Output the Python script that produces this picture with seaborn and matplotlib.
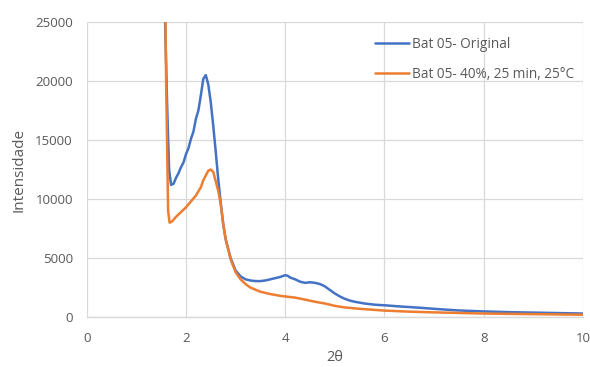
import matplotlib
matplotlib.use("Agg")
import matplotlib.pyplot as plt
import seaborn as sns
import pandas as pd

# Data
blue_label = "Bat 05- Original"
orange_label = "Bat 05- 40%, 25 min, 25°C"

blue_x = [1.50, 1.58, 1.62, 1.66, 1.70, 1.75, 1.80, 1.85, 1.90, 1.95, 2.00, 2.05, 2.10, 2.15,
          2.20, 2.25, 2.30, 2.35, 2.40, 2.45, 2.50, 2.55, 2.60, 2.65, 2.70, 2.75, 2.80,
          2.90, 3.00, 3.10, 3.20, 3.30, 3.40, 3.50, 3.60, 3.70, 3.80, 3.90, 4.00, 4.05, 4.10,
          4.20, 4.30, 4.40, 4.50, 4.60, 4.70, 4.80, 4.90, 5.00, 5.10, 5.20, 5.30, 5.40,
          5.60, 5.80, 6.00, 6.25, 6.50, 6.75, 7.00, 7.50, 8.00, 8.50, 9.00, 9.50, 10.00]
blue_y = [40000, 25000, 18000, 12500, 11200, 11300, 11800, 12200, 12700, 13100, 13800, 14300, 15100, 15700,
          16800, 17500, 18800, 20200, 20500, 19700, 18200, 16200, 14000, 11700, 9700, 7900, 6600,
          5000, 3950, 3450, 3200, 3100, 3050, 3050, 3100, 3200, 3300, 3400, 3550, 3500, 3350,
          3200, 3000, 2900, 2950, 2900, 2800, 2600, 2300, 2000, 1750, 1550, 1400, 1300,
          1150, 1050, 1000, 920, 850, 780, 700, 560, 480, 420, 380, 340, 300]

orange_x = [1.55, 1.60, 1.64, 1.67, 1.72, 1.80, 1.90, 2.00, 2.10, 2.20, 2.30, 2.35, 2.40, 2.45,
            2.50, 2.55, 2.60, 2.65, 2.70, 2.75, 2.80, 2.90, 3.00, 3.10, 3.20, 3.30, 3.50, 3.70, 3.90,
            4.00, 4.20, 4.40, 4.60, 4.80, 5.00, 5.20, 5.50, 6.00, 6.50, 7.00, 7.50, 8.00,
            9.00, 10.00]
orange_y = [40000, 20000, 9000, 8000, 8100, 8500, 8900, 9300, 9800, 10300, 11000, 11600, 12000, 12400,
            12500, 12300, 11500, 10700, 9600, 7900, 6600, 4900, 3800, 3200, 2800, 2500, 2150, 1950, 1800,
            1750, 1650, 1480, 1300, 1150, 950, 820, 700, 550, 460, 400, 350, 300,
            250, 200]

df = pd.concat([
    pd.DataFrame({"x": blue_x, "y": blue_y, "series": blue_label}),
    pd.DataFrame({"x": orange_x, "y": orange_y, "series": orange_label}),
], ignore_index=True)

sns.set_theme(style="whitegrid")
plt.rcParams["font.family"] = ["Open Sans", "DejaVu Sans"]

text_color = "#595959"
grid_color = "#D9D9D9"

fig = plt.figure(figsize=(5.9, 3.67), dpi=100)
ax = fig.add_axes([0.147, 0.136, 0.841, 0.804])

sns.lineplot(data=df, x="x", y="y", hue="series", estimator=None, sort=False,
             palette={blue_label: "#4472C4", orange_label: "#ED7D31"},
             linewidth=1.8, ax=ax)

ax.set_xlim(0, 10)
ax.set_ylim(0, 25000)
ax.set_xticks([0, 2, 4, 6, 8, 10])
ax.set_yticks([0, 5000, 10000, 15000, 20000, 25000])
ax.grid(True, color=grid_color, linewidth=0.9)
for s in ["left", "right", "top"]:
    ax.spines[s].set_visible(False)
ax.spines["bottom"].set_color(grid_color)
ax.spines["bottom"].set_linewidth(1.0)
ax.tick_params(axis="both", colors=text_color, labelsize=9.5, length=0)
ax.tick_params(axis="x", pad=11)
ax.tick_params(axis="y", pad=10)

ax.set_xlabel("2θ", color=text_color, fontsize=10.5, labelpad=3)
ax.set_ylabel("Intensidade", color=text_color, fontsize=11, labelpad=6)

leg = ax.legend(loc="upper left", bbox_to_anchor=(0.556, 0.99), frameon=False,
                fontsize=9.8, handlelength=2.5, handletextpad=0.2, labelspacing=1.05)
for t in leg.get_texts():
    t.set_color(text_color)

fig.savefig("out.png", dpi=100)
